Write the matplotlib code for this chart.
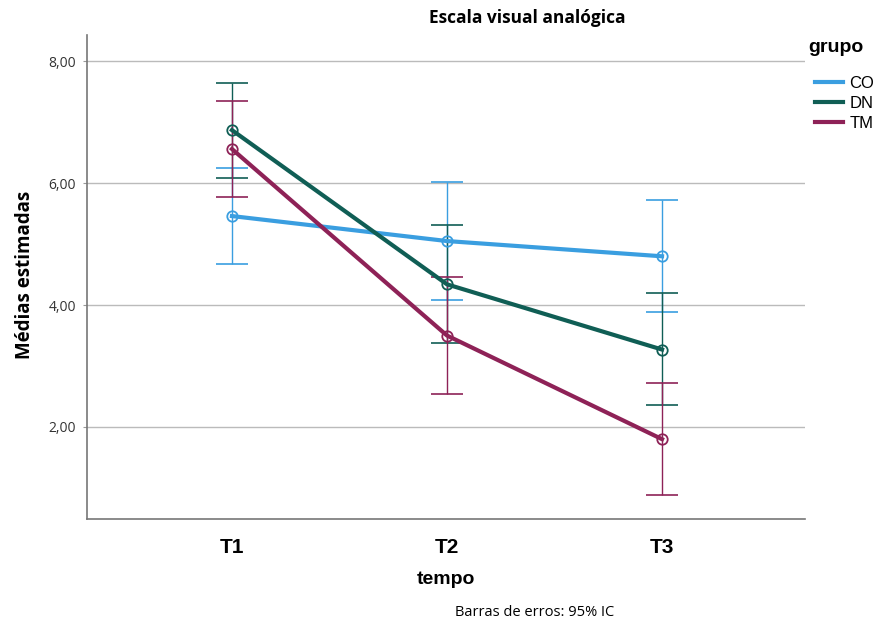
import numpy as np
import matplotlib.pyplot as plt

tempos = ['T1', 'T2', 'T3']
grupos = ['CO', 'DN', 'TM']
cores = ['#3a9ee0', '#105e55', '#8e2257']

# medias e limites do IC 95%
media_co = [5.46, 5.05, 4.80]
inf_co = [4.67, 4.09, 3.89]
sup_co = [6.25, 6.02, 5.72]

media_dn = [6.87, 4.34, 3.27]
inf_dn = [6.08, 3.38, 2.36]
sup_dn = [7.64, 5.32, 4.19]

media_tm = [6.56, 3.50, 1.80]
inf_tm = [5.78, 2.54, 0.89]
sup_tm = [7.34, 4.46, 2.72]

medias = [media_co, media_dn, media_tm]
inferiores = [inf_co, inf_dn, inf_tm]
superiores = [sup_co, sup_dn, sup_tm]

fig = plt.figure(figsize=(8.78, 6.23), dpi=100)
ax = fig.add_axes([0.0991, 0.1669, 0.8178, 0.7769])

x = np.arange(len(tempos))
for m, lo, hi, c, g in zip(medias, inferiores, superiores, cores, grupos):
    m = np.array(m)
    yerr = [m - np.array(lo), np.array(hi) - m]
    ax.errorbar(x, m, yerr=yerr, fmt='none', ecolor=c, elinewidth=1.0,
                capsize=11.5, capthick=1.2, zorder=2)
    ax.plot(x, m, color=c, linewidth=3, label=g, zorder=3)
    ax.plot(x, m, 'o', mfc='none', mec=c, ms=7.5, mew=1.3, zorder=4)

ax.set_xlim(-0.674, 2.665)
ax.set_ylim(0.49, 8.43)
ax.set_yticks([2, 4, 6, 8])
ax.set_yticklabels(['2,00', '4,00', '6,00', '8,00'], fontsize=10,
                   color='#333333', family='Open Sans')
ax.set_xticks(x)
ax.set_xticklabels(tempos, fontsize=15, fontweight='bold', family='Liberation Sans')
ax.tick_params(axis='x', length=0, pad=14)
ax.tick_params(axis='y', length=3, color='#999999', pad=5)
ax.grid(axis='y', color='#bbbbbb', linewidth=1)
ax.set_axisbelow(True)
for s in ['top', 'right']:
    ax.spines[s].set_visible(False)
for s in ['left', 'bottom']:
    ax.spines[s].set_color('#777777')
    ax.spines[s].set_linewidth(1.2)

ax.set_xlabel('tempo', fontsize=14, fontweight='bold', family='Liberation Sans', labelpad=10)

fig.text(25 / 878, 1 - 275 / 623, 'Médias estimadas', rotation=90, ha='center', va='center',
         fontsize=13.5, fontweight='bold', family='Open Sans')
fig.text(527 / 878, 1 - 18 / 623, 'Escala visual analógica', ha='center', va='center',
         fontsize=12.5, fontweight='bold', family='Open Sans')
fig.text(535 / 878, 1 - 613 / 623, 'Barras de erros: 95% IC', ha='center', va='center',
         fontsize=10.5, family='Open Sans')
fig.text(808 / 878, 1 - 47 / 623, 'grupo', ha='left', va='center',
         fontsize=14, fontweight='bold', family='Liberation Sans')

leg = fig.legend(*ax.get_legend_handles_labels(), loc='upper left',
                 bbox_to_anchor=(815 / 878, 1 - 76 / 623), frameon=False,
                 handlelength=1.7, handletextpad=0.35,
                 labelspacing=0.3, borderaxespad=0, borderpad=0,
                 prop={'family': 'Liberation Sans', 'size': 12})

fig.savefig('out.png', dpi=100)
